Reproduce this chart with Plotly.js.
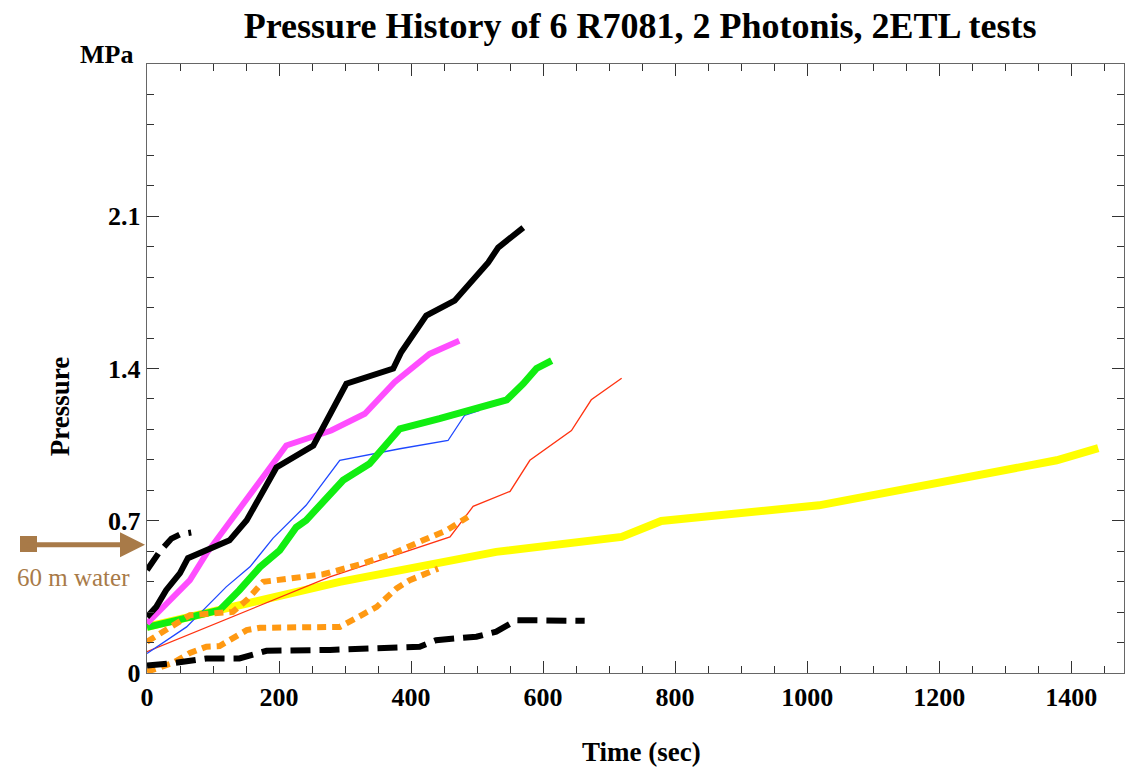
<!DOCTYPE html>
<html>
<head>
<meta charset="utf-8">
<script src="https://cdn.plot.ly/plotly-3.0.1.min.js"></script>
<style>html,body{margin:0;padding:0;background:#fff;}#chart{width:1127px;height:767px;}</style>
</head>
<body>
<div id="chart"></div>
<script>
// R7081 #1 (black solid)
const blackT = [0, 14, 29, 50, 62, 80, 125, 151, 175, 196, 252, 302, 373, 385, 423, 466, 517, 532, 570];
const blackP = [0.258, 0.304, 0.381, 0.459, 0.528, 0.551, 0.610, 0.702, 0.826, 0.945, 1.046, 1.33, 1.40, 1.475, 1.643, 1.712, 1.888, 1.956, 2.048];
// magenta
const magT = [0, 19, 39, 65, 90, 151, 211, 279, 330, 375, 428, 473];
const magP = [0.228, 0.289, 0.350, 0.427, 0.549, 0.794, 1.046, 1.115, 1.192, 1.337, 1.467, 1.528];
// green
const greenT = [0, 110, 140, 171, 201, 226, 241, 282, 297, 337, 383, 443, 545, 570, 590, 613];
const greenP = [0.21, 0.289, 0.381, 0.487, 0.564, 0.67, 0.702, 0.84, 0.886, 0.962, 1.123, 1.169, 1.256, 1.33, 1.40, 1.436];
// blue (thin)
const blueT = [0, 60, 90, 120, 156, 191, 241, 292, 383, 456, 481, 504];
const blueP = [0.09, 0.212, 0.304, 0.396, 0.488, 0.62, 0.771, 0.978, 1.031, 1.069, 1.184, 1.207];
// red (thin)
const redT = [0, 277, 459, 494, 550, 580, 643, 673, 719];
const redP = [0.098, 0.442, 0.626, 0.766, 0.835, 0.978, 1.115, 1.256, 1.355];
// yellow
const yellowT = [0, 140, 201, 292, 529, 595, 719, 779, 1018, 1378, 1441];
const yellowP = [0.212, 0.312, 0.358, 0.419, 0.557, 0.58, 0.626, 0.699, 0.771, 0.978, 1.034];
// black dashed (short, upper)
const dashUpT = [0, 19, 37, 50, 67];
const dashUpP = [0.473, 0.557, 0.618, 0.637, 0.646];
// black dashed (lower)
const dashLowT = [0, 39, 90, 140, 181, 277, 413, 438, 499, 529, 560, 663];
const dashLowP = [0.034, 0.045, 0.067, 0.067, 0.102, 0.106, 0.121, 0.151, 0.167, 0.19, 0.243, 0.24];
// orange dotted (upper)
const orUpT = [0, 65, 130, 151, 176, 267, 327, 378, 418, 454, 486];
const orUpP = [0.144, 0.266, 0.281, 0.335, 0.419, 0.454, 0.503, 0.557, 0.61, 0.656, 0.717];
// orange dotted (lower)
const orLowT = [0, 39, 65, 90, 110, 135, 151, 171, 292, 302, 327, 348, 378, 398, 441];
const orLowP = [0.006, 0.046, 0.092, 0.121, 0.124, 0.167, 0.197, 0.208, 0.212, 0.228, 0.271, 0.304, 0.389, 0.427, 0.48];

const yTickVals = [0, 0.7, 1.4, 2.1, 2.8];
const yTickText = ['0', '0.7', '1.4', '2.1', ''];
const yUnit = 'MPa';
const xTickVals = [0, 200, 400, 600, 800, 1000, 1200, 1400];
const waterLevel = 0.59;
const waterLabel = '60 m water';
const titleText = 'Pressure History of 6 R7081, 2 Photonis, 2ETL tests';
const xTitle = 'Time (sec)';
const yTitle = 'Pressure';

function tr(x, y, color, width, dash) {
  return {x: x, y: y, type: 'scatter', mode: 'lines',
    line: {color: color, width: width, dash: dash || 'solid'}, hoverinfo: 'skip'};
}
const traces = [
  tr(yellowT, yellowP, '#ffff00', 8),
  tr(redT, redP, '#ff3311', 1.3),
  tr(blueT, blueP, '#1f48ff', 1.3),
  tr(greenT, greenP, '#11ee11', 7),
  tr(magT, magP, '#ff4dff', 6),
  tr(blackT, blackP, '#000000', 6),
  tr(orUpT, orUpP, '#ff9912', 6, '9px,6px'),
  tr(orLowT, orLowP, '#ff9912', 6, '9px,6px'),
  tr(dashUpT, dashUpP, '#000000', 6, '20px,9px'),
  tr(dashLowT, dashLowP, '#000000', 6, '20px,9px')
];

const fontFam = '"Liberation Serif", "Times New Roman", serif';
const brown = '#a87a48';
const layout = {
  width: 1127, height: 767,
  margin: {l: 147, r: 3, t: 64, b: 94},
  paper_bgcolor: '#ffffff', plot_bgcolor: '#ffffff',
  showlegend: false,
  font: {family: fontFam, color: '#000', size: 26, weight: 700},
  title: {text: titleText, xref: 'container', x: 0.568, xanchor: 'center', y: 0.967, yanchor: 'middle',
    font: {family: fontFam, size: 36, weight: 700, color: '#000'}},
  xaxis: {range: [0, 1480], tickvals: xTickVals, ticks: 'inside', ticklen: 12, tickwidth: 1,
    tickcolor: '#333', showline: true, linecolor: '#666', linewidth: 1.3, mirror: 'ticks',
    showgrid: false, zeroline: false,
    tickfont: {family: fontFam, size: 26, weight: 700},
    minor: {dtick: 50, tick0: 0, ticks: 'inside', ticklen: 7, tickcolor: '#333', showgrid: false}},
  yaxis: {range: [0, 2.8], tickvals: yTickVals, ticktext: yTickText, ticks: 'inside', ticklen: 12, tickwidth: 1,
    tickcolor: '#333', showline: true, linecolor: '#666', linewidth: 1.3, mirror: 'ticks',
    showgrid: false, zeroline: false,
    tickfont: {family: fontFam, size: 26, weight: 700},
    minor: {dtick: 0.14, tick0: 0, ticks: 'inside', ticklen: 7, tickcolor: '#333', showgrid: false}},
  annotations: [
    {xref: 'paper', yref: 'paper', x: -0.089, y: 0.438, text: yTitle, textangle: -90, showarrow: false,
      font: {family: fontFam, size: 27, weight: 700, color: '#000'}, xanchor: 'center', yanchor: 'middle'},
    {xref: 'paper', yref: 'paper', x: 0.506, y: -0.13, text: xTitle, showarrow: false,
      font: {family: fontFam, size: 27, weight: 700, color: '#000'}, xanchor: 'center', yanchor: 'middle'},
    {xref: 'paper', yref: 'paper', x: -0.041, y: 1.015, text: yUnit, showarrow: false,
      font: {family: fontFam, size: 26, weight: 700, color: '#000'}, xanchor: 'center', yanchor: 'middle'},
    {xref: 'x', yref: 'y', x: 0, y: waterLevel, ax: -122, ay: 0, axref: 'pixel', ayref: 'pixel', text: '',
      showarrow: true, arrowhead: 2, arrowsize: 1, arrowwidth: 5, arrowcolor: brown, standoff: 2},
    {xref: 'paper', yref: 'y', x: -0.0757, y: 0.44, text: waterLabel, showarrow: false,
      font: {family: fontFam, size: 25, weight: 400, color: brown}, xanchor: 'center', yanchor: 'middle'}
  ],
  shapes: [
    {type: 'rect', xref: 'paper', yref: 'paper', x0: (20 - 147) / 977, x1: (37 - 147) / 977,
      y0: (673 - 552) / 609, y1: (673 - 536) / 609, fillcolor: brown, line: {width: 0}, layer: 'above'}
  ]
};
Plotly.newPlot('chart', traces, layout, {staticPlot: true, displayModeBar: false});
</script>
</body>
</html>
